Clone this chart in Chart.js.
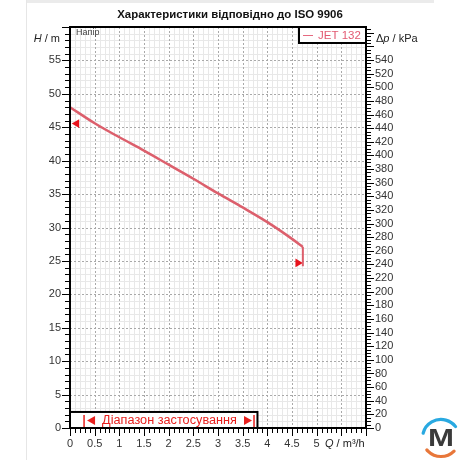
<!DOCTYPE html>
<html><head><meta charset="utf-8">
<style>html,body{margin:0;padding:0;background:#fff;}canvas{display:block;}</style>
<script src="https://cdn.jsdelivr.net/npm/chart.js@4"></script>
</head><body>
<canvas id="c" width="460" height="460"></canvas>
<script>
const FONT = '"Liberation Sans", Arial, sans-serif';
const titleText = 'Характеристики відповідно до ISO 9906';
const seriesName = 'JET 132';
const headCaption = 'Напір';
const rangeLabel = 'Діапазон застосування';

// pump curve (Q in m³/h, H in m)
const flowQ = [0, 0.5, 1.0, 1.5, 2.0, 2.5, 3.0, 3.5, 4.0, 4.5, 4.72];
const headH = [48.0, 45.6, 43.5, 41.5, 39.4, 37.3, 35.1, 33.0, 30.8, 28.3, 27.1];
// vertical end drop
const dropQ = [4.72, 4.72];
const dropH = [27.1, 24.2];
// red triangle markers
const markerQ = [0.136, 4.62];
const markerH = [45.55, 24.7];
const markerRot = [270, 90];

// tick labels
const xTickLabels = [0, 0.5, 1, 1.5, 2, 2.5, 3, 3.5, 4, 4.5, 5];
const hTickLabels = [0, 5, 10, 15, 20, 25, 30, 35, 40, 45, 50, 55];
const pTickLabels = [0, 20, 40, 60, 80, 100, 120, 140, 160, 180, 200, 220, 240, 260, 280, 300, 320, 340, 360, 380, 400, 420, 440, 460, 480, 500, 520, 540];

// range of application
const rangeQ = [0.285, 3.73];
const rangeBoxQ = [0, 3.8];
const rangeBoxH = 2.4;

const Q_MAX = 6, H_MAX = 60, KPA_PER_M = 9.80665;

const CURVE = '#dc5f6c';
const MARK = '#e8121c';

function near(v, arr){ return arr.some(a => Math.abs(a - v) < 1e-6); }

function fitFont(ctx, text, weight, style, target, base){
  ctx.font = `${style} ${weight} ${base}px ${FONT}`;
  const w = ctx.measureText(text).width;
  return base * target / w;
}

function drawParts(ctx, parts, x, y, align){
  let total = 0;
  parts.forEach(p => { ctx.font = `${p[1] ? 'italic ' : ''}11px ${FONT}`; total += ctx.measureText(p[0]).width; });
  let cx = align === 'right' ? x - total : x;
  ctx.textAlign = 'left';
  parts.forEach(p => { ctx.font = `${p[1] ? 'italic ' : ''}11px ${FONT}`; ctx.fillText(p[0], cx, y); cx += ctx.measureText(p[0]).width; });
}

const deco = {
  id: 'deco',
  beforeDraw(chart){
    const ctx = chart.ctx;
    ctx.save();
    ctx.fillStyle = '#fff'; ctx.fillRect(0,0,460,460);
    ctx.fillStyle = '#ebebeb'; ctx.fillRect(26,0,408,3);
    ctx.strokeStyle = '#e6e6e6'; ctx.lineWidth = 1;
    ctx.beginPath(); ctx.moveTo(26.5,0); ctx.lineTo(26.5,460); ctx.stroke();
    ctx.restore();
  },
  beforeDatasetsDraw(chart){
    const {ctx, chartArea:a, scales:{x, y}} = chart;
    ctx.save();
    ctx.lineWidth = 1;
    ctx.strokeStyle = '#e8e8e8';
    ctx.beginPath();
    for (let i = 1; i < Q_MAX*10; i++){
      if (i % 5 === 0) continue;
      const px = Math.round(x.getPixelForValue(i/10)) + 0.5;
      ctx.moveTo(px, a.top); ctx.lineTo(px, a.bottom);
    }
    for (let j = 1; j < H_MAX; j++){
      if (j % 5 === 0) continue;
      const py = Math.round(y.getPixelForValue(j)) + 0.5;
      ctx.moveTo(a.left, py); ctx.lineTo(a.right, py);
    }
    ctx.stroke();
    ctx.strokeStyle = '#a9a9a9';
    ctx.setLineDash([2,2]);
    ctx.beginPath();
    for (let i = 5; i < Q_MAX*10; i += 5){
      const px = Math.round(x.getPixelForValue(i/10)) + 0.5;
      ctx.moveTo(px, a.top); ctx.lineTo(px, a.bottom);
    }
    for (let j = 5; j < H_MAX; j += 5){
      const py = Math.round(y.getPixelForValue(j)) + 0.5;
      ctx.moveTo(a.left, py); ctx.lineTo(a.right, py);
    }
    ctx.stroke();
    ctx.restore();
  },
  afterDatasetsDraw(chart){
    const {ctx, chartArea:a, scales:{x, y, y2}} = chart;
    ctx.save();
    // tick marks
    ctx.strokeStyle = '#000'; ctx.lineWidth = 1;
    ctx.beginPath();
    for (let j = 0; j <= H_MAX; j++){
      const py = Math.round(y.getPixelForValue(j)) + 0.5;
      const len = j % 5 === 0 ? 8 : 5;
      ctx.moveTo(a.left - len, py); ctx.lineTo(a.left, py);
    }
    for (let i = 0; i <= Q_MAX*10; i++){
      const px = Math.round(x.getPixelForValue(i/10)) + 0.5;
      const len = i % 5 === 0 ? 8 : 5;
      ctx.moveTo(px, a.bottom); ctx.lineTo(px, a.bottom + len);
    }
    for (let k = 0; k <= 585; k += 5){
      const py = Math.round(y2.getPixelForValue(k)) + 0.5;
      const len = k % 20 === 0 ? 8 : 5;
      ctx.moveTo(a.right, py); ctx.lineTo(a.right + len, py);
    }
    ctx.stroke();
    // frame
    ctx.lineWidth = 2;
    ctx.strokeRect(a.left, a.top, a.right - a.left, a.bottom - a.top);

    // range box
    const bx0 = x.getPixelForValue(rangeBoxQ[0]), bx1 = x.getPixelForValue(rangeBoxQ[1]);
    const by0 = y.getPixelForValue(rangeBoxH), by1 = y.getPixelForValue(0);
    ctx.fillStyle = '#fff';
    ctx.fillRect(bx0, by0, bx1 - bx0, by1 - by0);
    ctx.strokeStyle = '#000'; ctx.lineWidth = 2;
    ctx.strokeRect(bx0, by0, bx1 - bx0, by1 - by0);
    const rx0 = x.getPixelForValue(rangeQ[0]), rx1 = x.getPixelForValue(rangeQ[1]);
    const rcy = (by0 + by1) / 2 + 0.5;
    ctx.strokeStyle = '#e8201e'; ctx.lineWidth = 1.5;
    ctx.beginPath();
    ctx.moveTo(rx0, by0 + 3); ctx.lineTo(rx0, by1 - 1);
    ctx.moveTo(rx1, by0 + 3); ctx.lineTo(rx1, by1 - 1);
    ctx.stroke();
    ctx.fillStyle = '#e8201e';
    ctx.beginPath();
    ctx.moveTo(rx0 + 3, rcy); ctx.lineTo(rx0 + 11, rcy - 4.5); ctx.lineTo(rx0 + 11, rcy + 4.5); ctx.closePath(); ctx.fill();
    ctx.beginPath();
    ctx.moveTo(rx1 - 2, rcy); ctx.lineTo(rx1 - 10, rcy - 4.5); ctx.lineTo(rx1 - 10, rcy + 4.5); ctx.closePath(); ctx.fill();
    const rs = fitFont(ctx, rangeLabel, 'normal', 'normal', 135, 12);
    ctx.font = `${rs}px ${FONT}`;
    ctx.textAlign = 'center'; ctx.textBaseline = 'middle';
    ctx.fillText(rangeLabel, (rx0 + rx1) / 2 + 0.5, rcy);

    // legend box
    const lx0 = 299, lx1 = a.right, ly0 = a.top, ly1 = a.top + 16;
    ctx.fillStyle = '#fff';
    ctx.fillRect(lx0, ly0, lx1 - lx0, ly1 - ly0);
    ctx.strokeStyle = '#000'; ctx.lineWidth = 2;
    ctx.strokeRect(lx0, ly0, lx1 - lx0, ly1 - ly0);
    ctx.strokeStyle = '#e66a80'; ctx.lineWidth = 1;
    ctx.beginPath(); ctx.moveTo(303, 35.5); ctx.lineTo(313, 35.5); ctx.stroke();
    ctx.fillStyle = '#e25a72';
    ctx.font = `11.5px ${FONT}`;
    ctx.textAlign = 'left'; ctx.textBaseline = 'middle';
    ctx.fillText(seriesName, 318, 36);

    // captions
    ctx.fillStyle = '#444';
    ctx.font = `9px ${FONT}`;
    ctx.fillText(headCaption, 76, 32.5);

    ctx.fillStyle = '#222';
    ctx.textBaseline = 'middle';
    drawParts(ctx, [['H', true], [' / m', false]], 60, 38.5, 'right');
    drawParts(ctx, [['\u0394', false], ['p', true], [' / kPa', false]], 376, 39, 'left');
    drawParts(ctx, [['Q', true], [' / m\u00b3/h', false]], 325, 443.5, 'left');

    // title
    const ts = fitFont(ctx, titleText, 'bold', 'normal', 226, 11);
    ctx.font = `bold ${ts}px ${FONT}`;
    ctx.fillStyle = '#111';
    ctx.textAlign = 'center';
    ctx.fillText(titleText, 230, 15);

    // logo
    const cx = 441, cy = 438, r = 18.5;
    ctx.lineWidth = 3.2; ctx.lineCap = 'round';
    ctx.strokeStyle = '#29a9e1';
    ctx.beginPath(); ctx.arc(cx, cy, r, 195 * Math.PI/180, 322 * Math.PI/180); ctx.stroke();
    ctx.strokeStyle = '#e8773a';
    ctx.beginPath(); ctx.arc(cx, cy, r, 45 * Math.PI/180, 140 * Math.PI/180); ctx.stroke();
    ctx.fillStyle = '#3a3a3a';
    ctx.save();
    ctx.translate(cx, cy);
    ctx.scale(1.3, 1);
    ctx.font = `bold 24px ${FONT}`;
    ctx.textAlign = 'center'; ctx.textBaseline = 'middle';
    ctx.fillText('M', 0, 1);
    ctx.restore();

    ctx.restore();
  }
};

const tickFont = { family: FONT, size: 11 };

new Chart(document.getElementById('c'), {
  type: 'scatter',
  data: {
    datasets: [
      {
        data: flowQ.map((q, i) => ({ x: q, y: headH[i] })),
        showLine: true, borderColor: CURVE, borderWidth: 2.5,
        pointRadius: 0, cubicInterpolationMode: 'monotone', yAxisID: 'y'
      },
      {
        data: dropQ.map((q, i) => ({ x: q, y: dropH[i] })),
        showLine: true, borderColor: CURVE, borderWidth: 2,
        pointRadius: 0, tension: 0, yAxisID: 'y'
      },
      {
        data: markerQ.map((q, i) => ({ x: q, y: markerH[i] })),
        showLine: false, pointStyle: 'triangle', rotation: markerRot,
        pointRadius: 5, backgroundColor: MARK, borderWidth: 0, yAxisID: 'y'
      }
    ]
  },
  options: {
    responsive: false, animation: false,
    layout: { padding: { top: 27, left: 0, right: 0, bottom: 0 } },
    plugins: { legend: { display: false }, tooltip: { enabled: false }, title: { display: false } },
    scales: {
      x: {
        type: 'linear', position: 'bottom', min: 0, max: Q_MAX,
        grid: { display: false, drawTicks: false, tickLength: 0 },
        border: { display: false },
        ticks: {
          stepSize: 0.5, autoSkip: false, maxRotation: 0, padding: 9,
          font: tickFont, color: '#333',
          callback: v => near(v, xTickLabels) ? String(Math.round(v * 10) / 10) : ''
        },
        afterFit: s => { s.height = 32; }
      },
      y: {
        type: 'linear', position: 'left', min: 0, max: H_MAX,
        grid: { display: false, drawTicks: false, tickLength: 0 },
        border: { display: false },
        ticks: {
          stepSize: 5, autoSkip: false, padding: 9,
          font: tickFont, color: '#333',
          callback: v => near(v, hTickLabels) ? String(v) : ''
        },
        afterFit: s => { s.width = 70; }
      },
      y2: {
        type: 'linear', position: 'right', min: 0, max: H_MAX * KPA_PER_M,
        grid: { display: false, drawTicks: false, tickLength: 0 },
        border: { display: false },
        ticks: {
          stepSize: 20, autoSkip: false, padding: 9,
          font: tickFont, color: '#333',
          callback: v => near(v, pTickLabels) ? String(v) : ''
        },
        afterFit: s => { s.width = 94; }
      }
    }
  },
  plugins: [deco]
});
</script>
</body></html>
